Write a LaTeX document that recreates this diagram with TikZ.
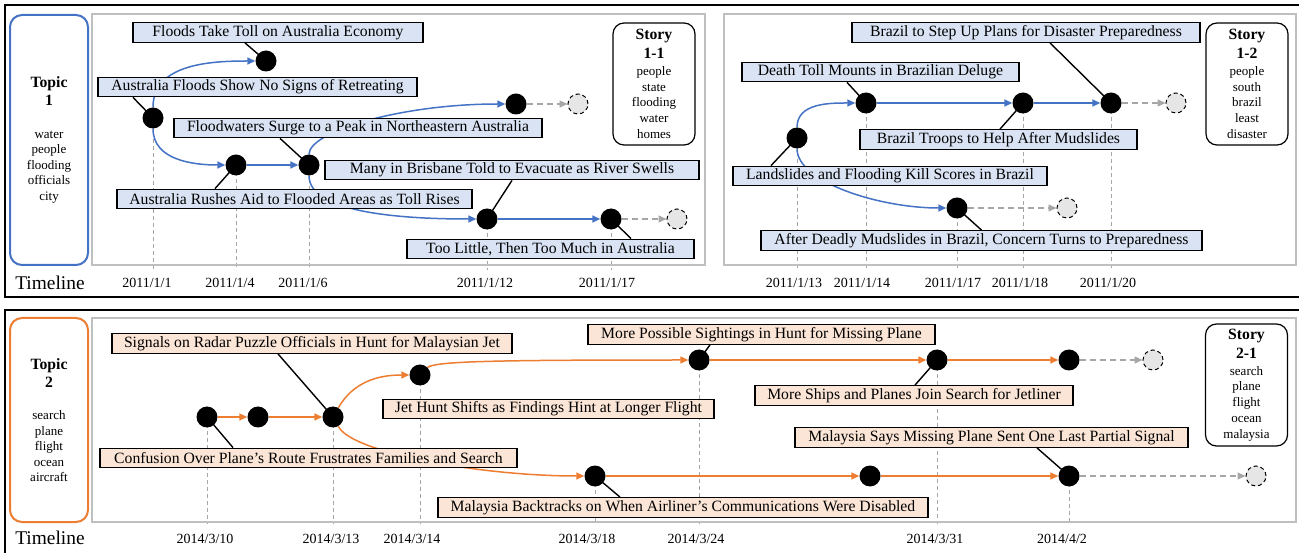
\documentclass[tikz,border=0pt]{standalone}
\usepackage{fontspec}
\setmainfont{Liberation Serif}
\usetikzlibrary{arrows.meta,calc}
\definecolor{tblue}{HTML}{4472C4}
\definecolor{tbluefill}{HTML}{DAE3F3}
\definecolor{torange}{HTML}{ED7D31}
\definecolor{torangefill}{HTML}{FBE5D6}
\definecolor{panelgray}{HTML}{BFBFBF}
\definecolor{tlgray}{HTML}{A6A6A6}
\definecolor{ghostfill}{HTML}{E7E6E6}
\pgfdeclarelayer{bg}
\pgfsetlayers{bg,main}
\newcommand\mybig[1]{{\fontsize{15.7}{18}\selectfont\bfseries #1}}
\begin{document}
\begin{tikzpicture}[x=1pt,y=1pt,
 ev/.style={circle,fill=black,minimum size=21pt,inner sep=0pt},
 ghost/.style={circle,fill=ghostfill,draw=black,dash pattern=on 4pt off 3pt,line width=1pt,minimum size=20pt,inner sep=0pt},
 lab/.style={draw=black,line width=1.3pt,inner sep=0pt,minimum height=19.5pt,font=\fontsize{15.7}{18}\selectfont},
 blab/.style={lab,fill=tbluefill},
 olab/.style={lab,fill=torangefill},
 conn/.style={black,line width=1.4pt},
 bflow/.style={tblue,line width=1.5pt,-{Triangle[length=8pt,width=7pt]}},
 oflow/.style={torange,line width=1.5pt,-{Triangle[length=8pt,width=7pt]}},
 gflow/.style={tlgray,line width=1.3pt,dash pattern=on 6pt off 4pt,-{Triangle[length=8pt,width=7pt]}},
 tl/.style={tlgray,line width=1pt,dash pattern=on 4pt off 3pt},
 date/.style={font=\fontsize{14}{16}\selectfont},
 tline/.style={font=\fontsize{19.4}{22}\selectfont},
 panel/.style={draw=panelgray,line width=1.5pt},
 frame/.style={draw=black,line width=1.5pt},
 topicbox/.style={line width=2pt,rounded corners=12pt,inner sep=0pt,minimum width=78pt,align=center,font=\fontsize{13}{15.5}\selectfont},
 storybox/.style={draw=black,line width=1.2pt,rounded corners=11pt,minimum width=82pt,minimum height=122pt,inner sep=0pt,align=center,font=\fontsize{13}{15.7}\selectfont},
]
\useasboundingbox (0,0) rectangle (1299,552);
% frames and panels
\draw[frame] (5,255) rectangle (1310,547);
\draw[frame] (5,-10) rectangle (1310,242);
\draw[panel] (92,287) rectangle (705,538);
\draw[panel] (724,287) rectangle (1296,538);
\draw[panel] (92,30) rectangle (1296,234);
\coordinate (tb1) at (0,282);
\coordinate (tb2) at (0,28);
% topics
\node[topicbox,draw=tblue,minimum height=250pt] (T1) at (49,412)
 {\mybig{Topic}\\[2.5pt]\mybig{1}\\[17pt]water\\people\\flooding\\officials\\city};
\node[topicbox,draw=torange,minimum height=204pt] (T2) at (49,132)
 {\mybig{Topic}\\[2.5pt]\mybig{2}\\[17pt]search\\plane\\flight\\ocean\\aircraft};
% stories
\node[storybox] (S11) at (654,468) {\mybig{Story}\\[3pt]\mybig{1-1}\\[1.3pt]people\\state\\flooding\\water\\homes};
\node[storybox] (S12) at (1247,468) {\mybig{Story}\\[3pt]\mybig{1-2}\\[1.3pt]people\\south\\brazil\\least\\disaster};
\node[storybox] (S21) at (1246.5,167) {\mybig{Story}\\[3pt]\mybig{2-1}\\[1.3pt]search\\plane\\flight\\ocean\\malaysia};
% timeline labels
\node[tline] (tl1) at (50,269) {Timeline};
\node[tline] (tl2) at (50,14) {Timeline};
\node[date] at (147,269) {2011/1/1};
\node[date] at (230,269) {2011/1/4};
\node[date] at (303,269) {2011/1/6};
\node[date] at (485,269) {2011/1/12};
\node[date] at (607,269) {2011/1/17};
\node[date] at (794,269) {2011/1/13};
\node[date] at (862,269) {2011/1/14};
\node[date] at (953,269) {2011/1/17};
\node[date] at (1020,269) {2011/1/18};
\node[date] at (1108,269) {2011/1/20};
\node[date] at (205,13) {2014/3/10};
\node[date] at (331,13) {2014/3/13};
\node[date] at (412,13) {2014/3/14};
\node[date] at (587,13) {2014/3/18};
\node[date] at (696,13) {2014/3/24};
\node[date] at (935,13) {2014/3/31};
\node[date] at (1062,13) {2014/4/2};
% story 1-1 events
\node[ev] (A) at (153,434) {};
\node[ev] (B) at (266,491) {};
\node[ev] (C) at (236,387) {};
\node[ev] (D) at (309,387) {};
\node[ev] (E) at (516,448) {};
\node[ghost] (Eg) at (578,448) {};
\node[ev] (F) at (487,333) {};
\node[ev] (G) at (611,333) {};
\node[ghost] (Gg) at (677,333) {};
\node[blab,minimum width=290pt] (L1) at (278,519.5) {Floods Take Toll on Australia Economy};
\node[blab,minimum width=319pt] (L2) at (257.5,465) {Australia Floods Show No Signs of Retreating};
\node[blab,minimum width=368pt] (L3) at (358,424) {Floodwaters Surge to a Peak in Northeastern Australia};
\node[blab,minimum width=374pt] (L4) at (512,382) {Many in Brisbane Told to Evacuate as River Swells};
\node[blab,minimum width=355pt] (L5) at (294.5,353) {Australia Rushes Aid to Flooded Areas as Toll Rises};
\node[blab,minimum width=287pt] (L6) at (550.5,303) {Too Little, Then Too Much in Australia};
% story 1-2 events
\node[ev] (P) at (797,414) {};
\node[ev] (Q) at (866,449) {};
\node[ev] (R) at (1023,449) {};
\node[ev] (S) at (1111,449) {};
\node[ghost] (Sg) at (1176,449) {};
\node[ev] (T) at (957,344) {};
\node[ghost] (Tg) at (1067,344) {};
\node[blab,minimum width=348pt] (M1) at (1026,519.5) {Brazil to Step Up Plans for Disaster Preparedness};
\node[blab,minimum width=277pt] (M2) at (880.5,480) {Death Toll Mounts in Brazilian Deluge};
\node[blab,minimum width=277pt] (M3) at (998.5,412.5) {Brazil Troops to Help After Mudslides};
\node[blab,minimum width=314pt] (M4) at (890,376) {Landslides and Flooding Kill Scores in Brazil};
\node[blab,minimum width=441pt] (M5) at (981.5,311.5) {After Deadly Mudslides in Brazil, Concern Turns to Preparedness};
% story 2-1 events
\node[ev] (N1) at (207,135) {};
\node[ev] (N2) at (258,135) {};
\node[ev] (N3) at (333,135) {};
\node[ev] (N4) at (420,177) {};
\node[ev] (N5) at (699,192) {};
\node[ev] (N6) at (937,192) {};
\node[ev] (N7) at (1069,192) {};
\node[ghost] (N7g) at (1153,192) {};
\node[ev] (N8) at (595,76) {};
\node[ev] (N9) at (870,76) {};
\node[ev] (N10) at (1069,76) {};
\node[ghost] (N10g) at (1256,76) {};
\node[olab,minimum width=400pt] (K1) at (312,208.5) {Signals on Radar Puzzle Officials in Hunt for Malaysian Jet};
\node[olab,minimum width=417pt] (K2) at (308.5,94) {Confusion Over Plane’s Route Frustrates Families and Search};
\node[olab,minimum width=331pt] (K3) at (548.5,143) {Jet Hunt Shifts as Findings Hint at Longer Flight};
\node[olab,minimum width=347pt] (K4) at (761.5,217.5) {More Possible Sightings in Hunt for Missing Plane};
\node[olab,minimum width=318pt] (K5) at (914,156.5) {More Ships and Planes Join Search for Jetliner};
\node[olab,minimum width=393pt] (K6) at (991.5,114.5) {Malaysia Says Missing Plane Sent One Last Partial Signal};
\node[olab,minimum width=490pt] (K7) at (683,44.5) {Malaysia Backtracks on When Airliner’s Communications Were Disabled};
% background: timelines, flows, connectors
\begin{pgfonlayer}{bg}
\foreach \n in {A,C,D,F,G,P,Q,T,R,S} \draw[tl] (\n.center) -- (\n.center |- tb1);
\foreach \n in {N1,N3,N4,N8,N5,N6,N10} \draw[tl] (\n.center) -- (\n.center |- tb2);
\draw[bflow] (A) to[out=90,in=180] (B);
\draw[bflow] (A) to[out=-90,in=180] (C);
\draw[bflow] (C) -- (D);
\draw[bflow] (D.north) .. controls +(0,22.5) and +(-105.5,0) .. (E.west);
\draw[bflow] (D.south) .. controls +(0,-38) and +(-70,0) .. (F.west);
\draw[bflow] (F) -- (G);
\draw[gflow] (E) -- (Eg);
\draw[gflow] (G) -- (Gg);
\draw[bflow] (P) to[out=90,in=180] (Q);
\draw[bflow] (Q) -- (R);
\draw[bflow] (R) -- (S);
\draw[gflow] (S) -- (Sg);
\draw[bflow] (P.south) .. controls +(0,-33.5) and +(-66.5,0) .. (T.west);
\draw[gflow] (T) -- (Tg);
\draw[oflow] (N1) -- (N2);
\draw[oflow] (N2) -- (N3);
\draw[oflow] (N3) to[out=60,in=180] (N4);
\draw[oflow] (N4.45) .. controls +(8,6) and +(-200,0) .. (N5.west);
\draw[oflow] (N5) -- (N6);
\draw[oflow] (N6) -- (N7);
\draw[gflow] (N7) -- (N7g);
\draw[oflow] (N3.-60) .. controls +(12,-26) and +(-104.5,0) .. (N8.west);
\draw[oflow] (N8) -- (N9);
\draw[oflow] (N9) -- (N10);
\draw[gflow] (N10) -- (N10g);
\draw[conn] (B.center) -- ([xshift=-33pt]L1.south);
\draw[conn] (A.center) -- ([xshift=-124.5pt]L2.south);
\draw[conn] (D.center) -- ([xshift=-78pt]L3.south);
\draw[conn] (F.center) -- (L4.south);
\draw[conn] (C.center) -- ([xshift=-79.5pt]L5.north);
\draw[conn] (G.center) -- ([xshift=80.5pt]L6.north);
\draw[conn] (S.center) -- ([xshift=24pt]M1.south);
\draw[conn] (Q.center) -- ([xshift=-33.5pt]M2.south);
\draw[conn] (R.center) -- ([xshift=1.5pt]M3.north);
\draw[conn] (P.center) -- ([xshift=-119pt]M4.north);
\draw[conn] (T.center) -- (M5.north);
\draw[conn] (N3.center) -- ([xshift=-34pt]K1.south);
\draw[conn] (N1.center) -- ([xshift=-75.5pt]K2.north);
\draw[conn] (N5.center) -- ([xshift=-51.5pt]K4.south);
\draw[conn] (N6.center) -- ([xshift=1pt]K5.north);
\draw[conn] (N10.center) -- ([xshift=45.5pt]K6.south);
\draw[conn] (N8.center) -- ([xshift=-63pt]K7.north);
\end{pgfonlayer}
\end{tikzpicture}
\end{document}
